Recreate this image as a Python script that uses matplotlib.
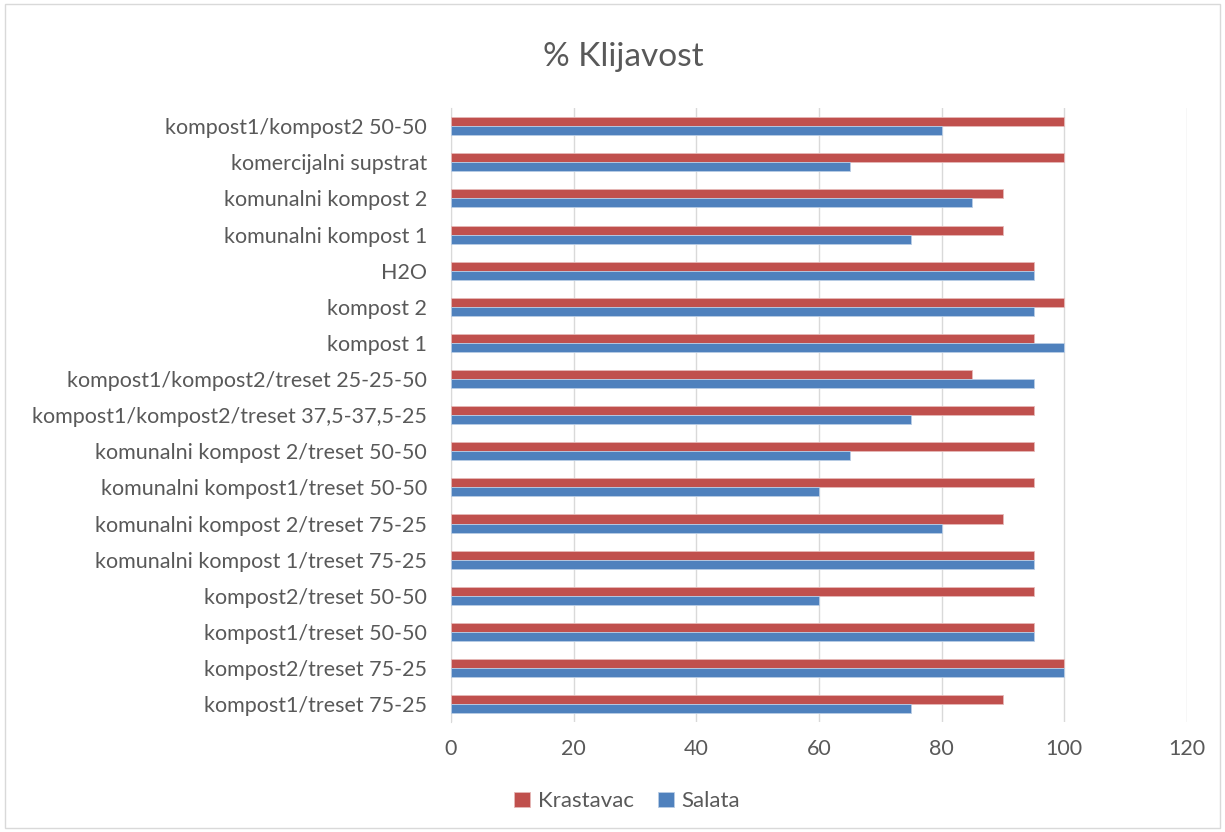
import numpy as np
from matplotlib import pyplot as plt
from matplotlib.patches import Rectangle

plt.rcParams['font.family'] = ['Lato', 'DejaVu Sans']

# categories listed bottom to top
categories = [
    'kompost1/treset 75-25',
    'kompost2/treset 75-25',
    'kompost1/treset 50-50',
    'kompost2/treset 50-50',
    'komunalni kompost 1/treset 75-25',
    'komunalni kompost 2/treset 75-25',
    'komunalni kompost1/treset 50-50',
    'komunalni kompost 2/treset 50-50',
    'kompost1/kompost2/treset 37,5-37,5-25',
    'kompost1/kompost2/treset 25-25-50',
    'kompost 1',
    'kompost 2',
    'H2O',
    'komunalni kompost 1',
    'komunalni kompost 2',
    'komercijalni supstrat',
    'kompost1/kompost2 50-50',
]
krastavac = [90, 100, 95, 95, 95, 90, 95, 95, 95, 85, 95, 100, 95, 90, 90, 100, 100]
salata = [75, 100, 95, 60, 95, 80, 60, 65, 75, 95, 100, 95, 95, 75, 85, 65, 80]
xticks = [0, 20, 40, 60, 80, 100, 120]

red = '#C0504D'
blue = '#4F81BD'
text_color = '#595959'

fig = plt.figure(figsize=(12.25, 8.32), dpi=100)
ax = fig.add_axes([0.368, 0.132, 0.601, 0.738])

y = np.arange(len(categories))
h = 0.25
ax.barh(y + h / 2, krastavac, height=h, color=red, edgecolor='#E6B8B7', linewidth=0.6, label='Krastavac', zorder=3)
ax.barh(y - h / 2, salata, height=h, color=blue, edgecolor='#B9CDE5', linewidth=0.6, label='Salata', zorder=3)

ax.set_xlim(0, 120)
ax.set_ylim(-0.5, len(categories) - 0.5)
ax.set_xticks(xticks)
ax.set_yticks(y)
ax.set_yticklabels(categories)
ax.tick_params(axis='both', length=0, labelsize=15.5, colors=text_color)
ax.tick_params(axis='y', pad=17)
ax.tick_params(axis='x', pad=12)
ax.grid(axis='x', color='#D9D9D9', linewidth=1, zorder=0)
for s in ['top', 'right', 'bottom']:
    ax.spines[s].set_visible(False)
ax.spines['left'].set_color('#D9D9D9')

fig.text(0.5085, 0.931, '% Klijavost', ha='center', va='center', fontsize=24, color=text_color)

leg = fig.legend(loc='center', bbox_to_anchor=(0.512, 0.037), ncol=2, frameon=False,
                 fontsize=16, handlelength=0.7, handleheight=0.7, handletextpad=0.35, columnspacing=1.1)
for t in leg.get_texts():
    t.set_color(text_color)

fig.patches.append(Rectangle((0.004, 0.005), 0.992, 0.99, transform=fig.transFigure,
                             fill=False, edgecolor='#D9D9D9', linewidth=1))

fig.savefig('out.png', dpi=100)
